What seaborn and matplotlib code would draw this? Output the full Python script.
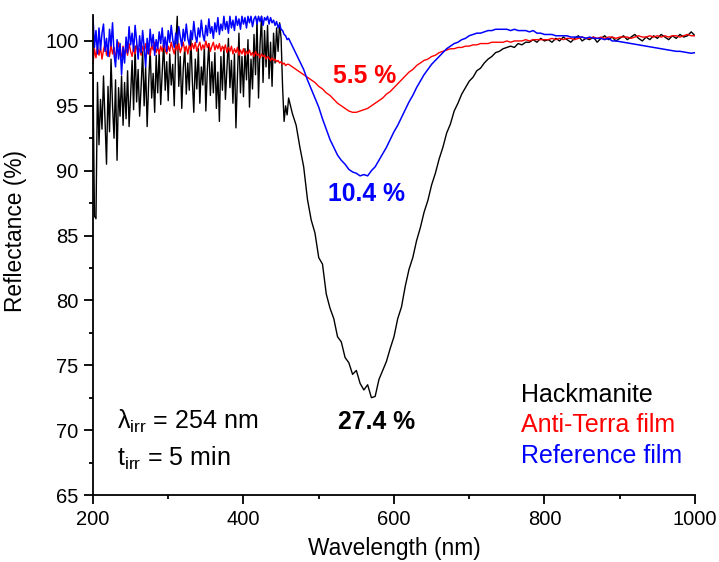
import numpy as np
import pandas as pd
import matplotlib
matplotlib.use("Agg")
import matplotlib.pyplot as plt
import seaborn as sns

# ---------------- data ----------------
# Hackmanite (black): 200-458 nm every 2 nm, then 460-1000 nm every 5 nm
hack_fine = [
    97.5, 86.5, 86.3, 96.8, 92.0, 95.5, 93.2, 97.3, 94.0, 90.5,
    96.5, 93.0, 98.6, 95.0, 92.5, 97.0, 90.8, 96.4, 94.2, 97.3,
    93.5, 96.8, 94.0, 97.7, 93.4, 95.8, 98.5, 94.7, 99.6, 95.3,
    97.8, 94.2, 96.5, 99.2, 95.0, 98.0, 93.4, 96.8, 99.4, 95.6,
    97.5, 94.5, 98.9, 96.0, 99.3, 95.1, 97.6, 100.0, 96.2, 98.4,
    95.4, 99.0, 96.6, 98.2, 95.0, 99.7, 101.9, 96.5, 98.8, 94.8,
    97.9, 99.5, 95.9, 98.3, 96.2, 100.4, 97.0, 94.5, 98.6, 96.3,
    99.4, 95.2, 98.0, 96.6, 99.6, 94.6, 97.8, 99.8, 95.8, 98.4,
    96.0, 99.1, 94.8, 97.6, 93.8, 98.8, 96.2, 99.5, 95.5, 97.9,
    100.2, 96.4, 98.5, 95.2, 99.0, 93.3, 97.3, 100.6, 96.0, 98.8,
    95.7, 99.4, 97.0, 100.1, 94.9, 98.6, 96.3, 100.5, 97.4, 101.7,
    95.6, 99.7, 101.9, 96.8, 100.8, 98.0, 101.2, 97.1, 99.9, 96.5,
    100.6, 98.3, 101.0, 99.2, 101.4, 100.2, 96.4, 93.8, 95.0, 94.3,
]
hack_coarse = [
    95.6, 94.4, 93.5, 91.8, 90.3, 87.8, 86.2, 85.2, 83.3, 82.8,
    80.5, 79.4, 78.6, 77.2, 76.8, 75.6, 75.2, 74.3, 74.6, 73.6,
    73.1, 73.5, 72.5, 72.6, 73.9, 74.6, 75.3, 76.3, 77.2, 78.6,
    79.5, 81.1, 82.4, 83.3, 84.6, 85.6, 86.8, 87.7, 88.9, 89.8,
    90.9, 91.8, 92.9, 93.6, 94.6, 95.2, 95.9, 96.4, 96.9, 97.2,
    97.7, 97.9, 98.3, 98.6, 98.8, 99.1, 99.2, 99.4, 99.5, 99.6,
    99.5, 99.8, 99.7, 99.9, 99.9, 100.1, 99.9, 100.2, 100.0,
    100.1, 99.9, 100.2, 100.0, 100.3, 100.1, 99.9, 100.2, 100.4, 100.0,
    100.2, 100.1, 100.3, 99.9, 100.2, 100.4, 100.1, 100.3, 100.0, 100.2,
    100.4, 100.1, 100.3, 100.5, 100.2, 100.0, 100.3, 100.1, 100.4, 100.2,
    100.5, 100.3, 100.1, 100.4, 100.2, 100.5, 100.3, 100.4, 100.7, 100.4,
]

# Anti-Terra film (red)
anti_fine = [
    98.2, 99.4, 98.7, 99.6, 98.9, 99.5, 98.6, 99.3, 99.8, 98.9,
    99.4, 98.8, 99.7, 99.0, 99.5, 98.7, 99.3, 99.9, 99.1, 98.8,
    99.6, 99.0, 99.4, 98.9, 99.8, 99.2, 98.8, 99.5, 99.0, 99.7,
    99.1, 99.4, 98.9, 99.6, 99.2, 99.8, 99.0, 99.4, 98.9, 99.7,
    99.3, 99.9, 99.1, 99.5, 99.0, 99.6, 99.2, 99.8, 99.3, 99.0,
    99.6, 99.2, 99.9, 99.4, 99.0, 99.7, 99.3, 99.8, 99.1, 99.5,
    99.9, 99.2, 99.6, 99.0, 99.7, 99.3, 99.8, 99.4, 99.9, 99.2,
    99.6, 99.9, 99.3, 99.7, 99.4, 100.0, 99.5, 99.8, 99.2, 99.6,
    99.9, 99.3, 99.7, 99.4, 99.8, 99.2, 99.6, 99.3, 99.7, 99.1,
    99.5, 99.2, 99.6, 99.0, 99.4, 99.1, 99.5, 98.9, 99.3, 99.0,
    99.4, 98.9, 99.2, 99.0, 99.3, 98.9, 99.1, 98.8, 99.2, 98.9,
    99.0, 98.7, 99.0, 98.8, 98.9, 98.6, 98.8, 98.7, 98.5, 98.7,
    98.5, 98.6, 98.4, 98.5, 98.3, 98.4, 98.2, 98.3, 98.1, 98.2,
]
anti_coarse = [
    98.2, 98.0, 97.8, 97.6, 97.4, 97.2, 97.0, 96.8, 96.5, 96.3,
    96.0, 95.8, 95.5, 95.2, 95.0, 94.8, 94.6, 94.5, 94.5, 94.6,
    94.7, 94.8, 95.0, 95.2, 95.4, 95.6, 95.9, 96.1, 96.4, 96.7,
    97.0, 97.3, 97.6, 97.8, 98.1, 98.3, 98.5, 98.6, 98.8, 98.9,
    99.1, 99.2, 99.3, 99.4, 99.4, 99.5, 99.5, 99.6, 99.6, 99.7,
    99.7, 99.8, 99.8, 99.8, 99.9, 99.9, 99.9, 99.9, 100.0, 99.9,
    100.0, 100.0, 100.0, 100.1, 100.0, 100.1, 100.1, 100.1, 100.1, 100.1,
    100.2, 100.1, 100.2, 100.1, 100.2, 100.2, 100.1, 100.2, 100.3, 100.2,
    100.2, 100.3, 100.2, 100.3, 100.2, 100.3, 100.3, 100.2, 100.3, 100.3,
    100.3, 100.2, 100.3, 100.4, 100.3, 100.3, 100.4, 100.3, 100.4, 100.3,
    100.4, 100.3, 100.4, 100.4, 100.3, 100.4, 100.5, 100.4, 100.4,
]

# Reference film (blue)
ref_fine = [
    101.9, 99.5, 100.8, 99.0, 101.0, 99.3, 100.6, 101.3, 99.2, 100.2,
    98.8, 100.9, 99.6, 101.4, 99.0, 98.0, 100.1, 98.6, 99.8, 97.4,
    99.5, 98.3, 100.3, 99.1, 101.1, 99.7, 100.6, 99.2, 101.2, 100.0,
    98.6, 100.4, 99.1, 100.8, 99.5, 98.0, 100.2, 99.0, 100.9, 99.6,
    100.5, 98.9, 100.1, 99.4, 100.7, 99.8, 101.0, 99.5, 100.3, 99.2,
    100.8, 99.9, 101.2, 100.1, 99.5, 100.6, 99.8, 101.1, 100.3, 99.6,
    100.9, 100.0, 101.3, 100.2, 99.7, 100.8, 100.1, 101.5, 100.4, 99.9,
    101.0, 100.3, 101.6, 100.5, 100.0, 101.2, 100.4, 101.7, 100.6, 101.1,
    100.2, 101.4, 100.7, 101.8, 100.5, 101.3, 100.8, 101.9, 100.9, 101.5,
    100.6, 101.9, 101.0, 101.6, 100.8, 101.9, 101.2, 101.7, 100.9, 101.9,
    101.3, 101.8, 101.0, 101.9, 101.4, 101.9, 101.1, 101.7, 101.9, 101.3,
    101.9, 101.5, 101.9, 101.2, 101.8, 101.6, 101.9, 101.3, 101.8, 101.4,
    101.6, 101.2, 101.5, 101.0, 101.3, 100.9, 100.8, 100.5, 100.4, 100.1,
]
ref_coarse = [
    100.2, 99.6, 99.0, 98.4, 97.8, 97.0, 96.3, 95.6, 94.9, 94.0,
    93.2, 92.4, 91.8, 91.2, 90.8, 90.5, 90.1, 89.9, 89.8, 89.6,
    89.7, 89.6, 90.0, 90.3, 90.8, 91.3, 91.8, 92.4, 93.0, 93.5,
    94.1, 94.7, 95.3, 95.8, 96.4, 96.9, 97.4, 97.8, 98.2, 98.5,
    98.8, 99.1, 99.4, 99.6, 99.8, 99.9, 100.1, 100.2, 100.4, 100.5,
    100.6, 100.6, 100.7, 100.8, 100.8, 100.9, 100.9, 100.9, 100.9, 100.8,
    100.9, 100.8, 100.8, 100.8, 100.7, 100.8, 100.6, 100.6, 100.5, 100.5,
    100.5, 100.4, 100.4, 100.4, 100.4, 100.3, 100.3, 100.3, 100.3, 100.2,
    100.3, 100.2, 100.2, 100.2, 100.1, 100.2, 100.0, 100.0, 99.95, 99.9,
    99.85, 99.8, 99.75, 99.7, 99.65, 99.6, 99.55, 99.5, 99.45, 99.4,
    99.35, 99.3, 99.25, 99.2, 99.2, 99.15, 99.1, 99.05, 99.1,
]

series_names = ["Hackmanite", "Anti-Terra film", "Reference film"]
series_colors = ["#000000", "#ff0000", "#0000ff"]
peak_labels = ["27.4 %", "5.5 %", "10.4 %"]


def wavelengths(fine, coarse):
    wf = 200 + 2 * np.arange(len(fine))
    wc = 460 + 5 * np.arange(len(coarse))
    return np.concatenate([wf, wc]).astype(float)


frames = []
for name, fine, coarse in zip(series_names,
                              [hack_fine, anti_fine, ref_fine],
                              [hack_coarse, anti_coarse, ref_coarse]):
    wl = wavelengths(fine, coarse)
    frames.append(pd.DataFrame({"Wavelength": wl,
                                "Reflectance": np.array(fine + coarse),
                                "series": name}))
df = pd.concat(frames, ignore_index=True)

# ---------------- style ----------------
sns.set_style("ticks")
plt.rcParams["font.family"] = ["Liberation Sans", "DejaVu Sans"]
plt.rcParams["mathtext.fontset"] = "custom"
plt.rcParams["mathtext.rm"] = "Liberation Sans"
plt.rcParams["mathtext.it"] = "Liberation Sans:italic"
plt.rcParams["mathtext.bf"] = "Liberation Sans:bold"
plt.rcParams["text.color"] = "black"
plt.rcParams["axes.labelcolor"] = "black"
plt.rcParams["axes.edgecolor"] = "black"
plt.rcParams["xtick.color"] = "black"
plt.rcParams["ytick.color"] = "black"

fig = plt.figure(figsize=(7.19, 5.62), dpi=100)
ax = fig.add_axes([0.1293, 0.1192, 0.8373, 0.8541])

lws = [1.0, 1.0, 1.1]
for name, col, lw in zip(series_names, series_colors, lws):
    sns.lineplot(data=df[df["series"] == name], x="Wavelength", y="Reflectance",
                 color=col, lw=lw, sort=False, estimator=None, ax=ax,
                 legend=False)

ax.set_xlim(200, 1000)
ax.set_ylim(65, 102)
ax.set_xticks([200, 400, 600, 800, 1000])
ax.set_xticks([300, 500, 700, 900], minor=True)
ax.set_yticks(np.arange(65, 101, 5))
ax.set_yticks(np.arange(67.5, 101, 5), minor=True)

sns.despine(ax=ax)
for s in ["left", "bottom"]:
    ax.spines[s].set_linewidth(1.3)
    ax.spines[s].set_color("black")
ax.tick_params(which="major", direction="out", length=6.5, width=1.3,
               labelsize=14.5, colors="black", pad=4)
ax.tick_params(which="minor", direction="out", length=3.2, width=1.3,
               colors="black")

ax.set_xlabel("Wavelength (nm)", fontsize=16.4)
ax.set_ylabel("Reflectance (%)", fontsize=16.4)
ax.yaxis.set_label_coords(-0.11, 0.55)
ax.xaxis.set_label_coords(0.5, -0.087)

# peak depth labels
bold_size = 17.8
ax.text(576.7, 70.64, peak_labels[0], color="black", fontsize=bold_size,
        fontweight="bold", ha="center", va="center")
ax.text(561, 97.3, peak_labels[1], color="red", fontsize=bold_size,
        fontweight="bold", ha="center", va="center")
ax.text(564, 88.2, peak_labels[2], color="blue", fontsize=bold_size,
        fontweight="bold", ha="center", va="center")

# irradiation conditions
ax.text(231.5, 70.64, r"λ$_{\mathregular{irr}}$ = 254 nm", fontsize=18,
        ha="left", va="center")
ax.text(231.5, 67.8, r"t$_{\mathregular{irr}}$ = 5 min", fontsize=18,
        ha="left", va="center")

# text legend
legend_y = [72.69, 70.38, 68.0]
for name, col, yy in zip(series_names, series_colors, legend_y):
    ax.text(769, yy, name, color=col, fontsize=18, ha="left", va="center")

fig.savefig("out.png", dpi=100)
